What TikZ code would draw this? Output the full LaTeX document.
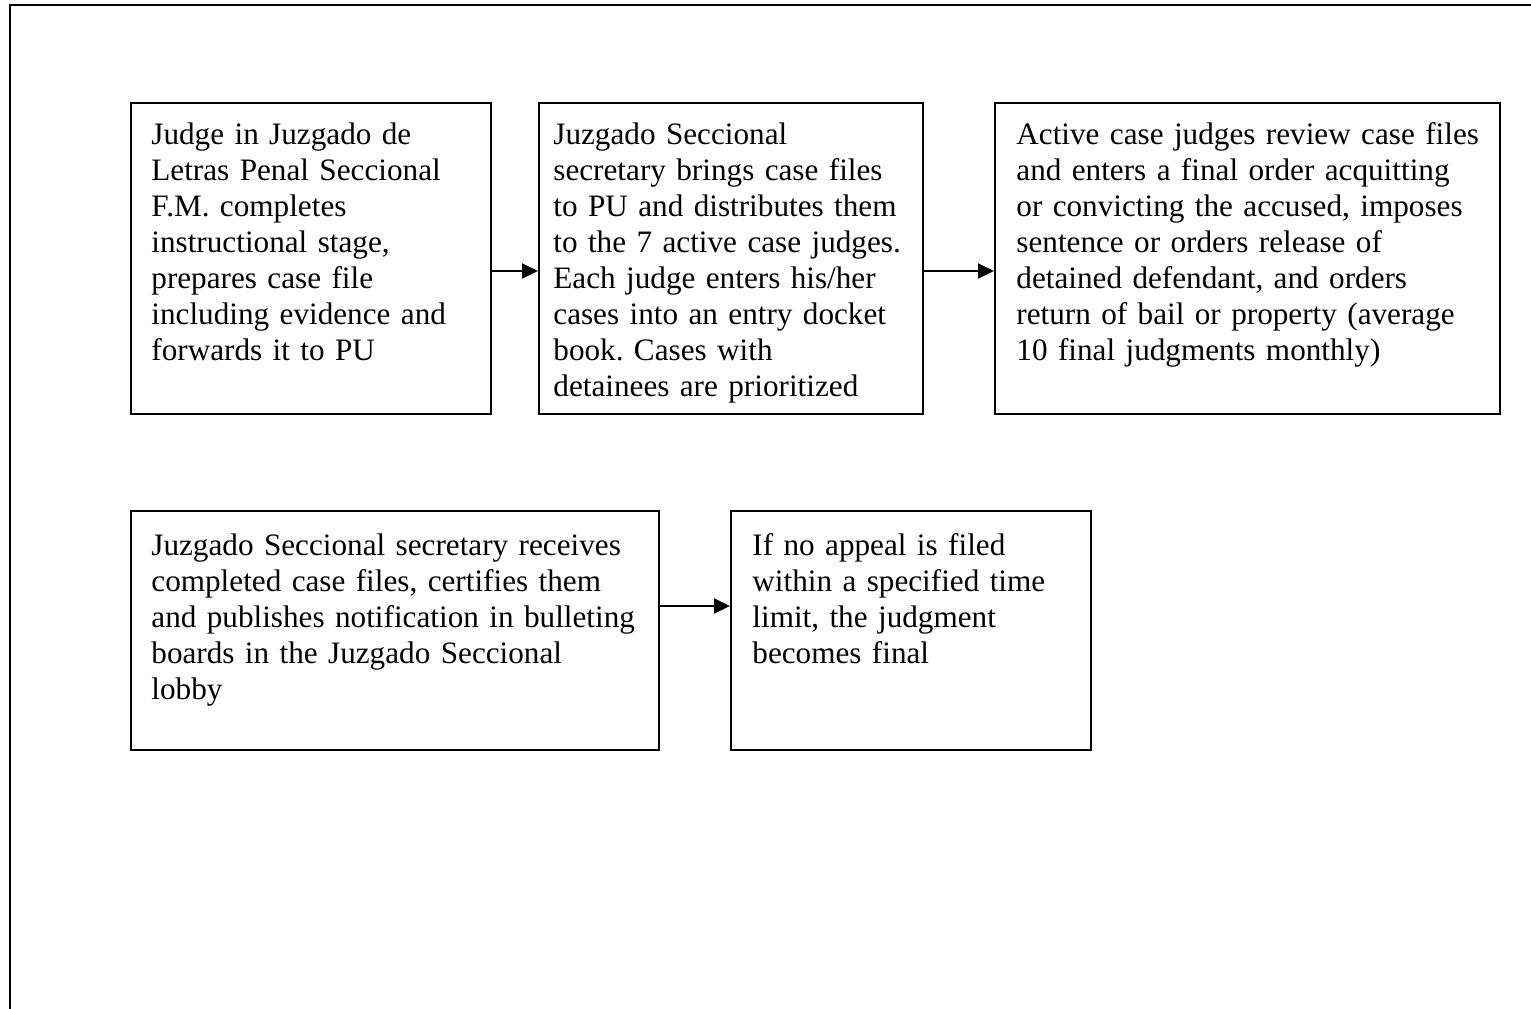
\documentclass[tikz,border=0pt]{standalone}
\usepackage{fontspec}
\setmainfont{Liberation Serif}
\usetikzlibrary{arrows.meta}
\frenchspacing
\begin{document}
\begin{tikzpicture}[x=0.5pt,y=-0.5pt,
  stepbox/.style={draw, line width=1pt, rectangle, inner sep=0pt, anchor=north west},
  boxtext/.style={anchor=base west, inner sep=0pt, align=left, text width=#1,
    font=\fontsize{15.6}{18}\selectfont\frenchspacing},
  arr/.style={line width=1pt, -{Triangle[length=8pt,width=7.5pt]}},
  frame/.style={line width=1pt}]
\useasboundingbox (0,0) rectangle (1531,1008);
% outer frame (extends beyond the page)
\coordinate (fbl) at (10,1010);
\coordinate (ftl) at (10,5);
\coordinate (ftr) at (1533,5);
\draw[frame] (fbl) -- (ftl) -- (ftr);
% boxes
\node[stepbox, minimum width=180pt, minimum height=155.5pt] (b1) at (130,102) {};
\node[stepbox, minimum width=192pt, minimum height=155.5pt] (b2) at (538,102) {};
\node[stepbox, minimum width=252.5pt, minimum height=155.5pt] (b3) at (994,102) {};
\node[stepbox, minimum width=264pt, minimum height=119.5pt] (b4) at (130,510) {};
\node[stepbox, minimum width=180pt, minimum height=119.5pt] (b5) at (730,510) {};
% texts
\node[boxtext=170pt] (t1) at ([shift={(10.5pt,-21pt)}]b1.north west) {Judge in Juzgado de\\
Letras Penal Seccional\\
F.M. completes\\
instructional stage,\\
prepares case file\\
including evidence and\\
forwards it to PU};
\node[boxtext=185pt] (t2) at ([shift={(7.5pt,-21pt)}]b2.north west) {Juzgado Seccional\\
secretary brings case files\\
to PU and distributes them\\
to the 7 active case judges.\\
Each judge enters his/her\\
cases into an entry docket\\
book. Cases with\\
detainees are prioritized};
\node[boxtext=245pt] (t3) at ([shift={(11pt,-21pt)}]b3.north west) {Active case judges review case files\\
and enters a final order acquitting\\
or convicting the accused, imposes\\
sentence or orders release of\\
detained defendant, and orders\\
return of bail or property (average\\
10 final judgments monthly)};
\node[boxtext=255pt] (t4) at ([shift={(10.5pt,-22.5pt)}]b4.north west) {Juzgado Seccional secretary receives\\
completed case files, certifies them\\
and publishes notification in bulleting\\
boards in the Juzgado Seccional\\
lobby};
\node[boxtext=175pt] (t5) at ([shift={(11pt,-22.5pt)}]b5.north west) {If no appeal is filed\\
within a specified time\\
limit, the judgment\\
becomes final};
% connectors
\draw[arr] ([yshift=-6.25pt]b1.east) -- ([yshift=-6.25pt]b2.west);
\draw[arr] ([yshift=-6.25pt]b2.east) -- ([yshift=-6.25pt]b3.west);
\draw[arr] ([yshift=12.25pt]b4.east) -- ([yshift=12.25pt]b5.west);
\end{tikzpicture}
\end{document}
